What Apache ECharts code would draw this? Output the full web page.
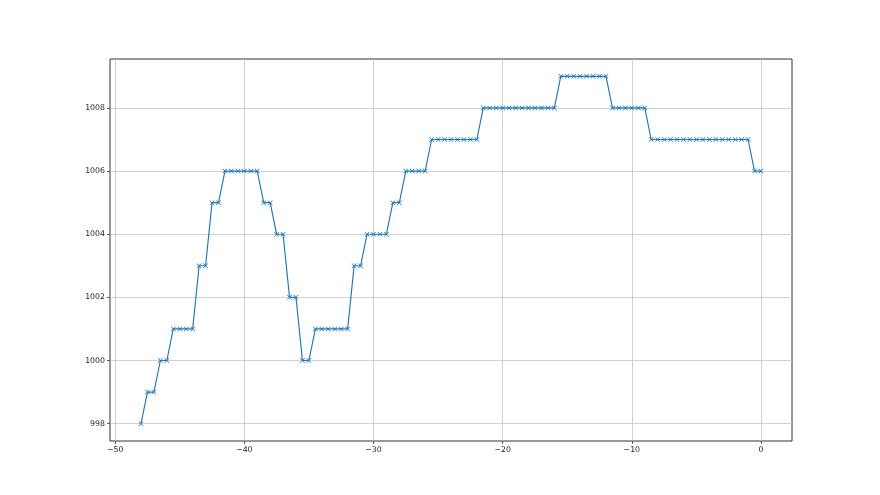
<!DOCTYPE html>
<html>
<head>
<meta charset="utf-8">
<script src="https://cdn.jsdelivr.net/npm/echarts@6/dist/echarts.min.js"></script>
<style>
  html, body { margin: 0; padding: 0; background: #fff; }
  #chart { width: 880px; height: 495px; }
</style>
</head>
<body>
<div id="chart"></div>
<script>
  // x positions (minutes), one sample every half unit
  const xs = [
    -48, -47.5, -47, -46.5, -46, -45.5, -45, -44.5, -44, -43.5, -43, -42.5, -42,
    -41.5, -41, -40.5, -40, -39.5, -39, -38.5, -38, -37.5, -37, -36.5, -36,
    -35.5, -35, -34.5, -34, -33.5, -33, -32.5, -32, -31.5, -31, -30.5, -30,
    -29.5, -29, -28.5, -28, -27.5, -27, -26.5, -26, -25.5, -25, -24.5, -24,
    -23.5, -23, -22.5, -22, -21.5, -21, -20.5, -20, -19.5, -19, -18.5, -18,
    -17.5, -17, -16.5, -16, -15.5, -15, -14.5, -14, -13.5, -13, -12.5, -12,
    -11.5, -11, -10.5, -10, -9.5, -9, -8.5, -8, -7.5, -7, -6.5, -6, -5.5, -5,
    -4.5, -4, -3.5, -3, -2.5, -2, -1.5, -1, -0.5, 0
  ]
  // pressure readings
  const ys = [
    998, 999, 999, 1000, 1000, 1001, 1001, 1001, 1001, 1003, 1003, 1005, 1005,
    1006, 1006, 1006, 1006, 1006, 1006, 1005, 1005, 1004, 1004, 1002, 1002,
    1000, 1000, 1001, 1001, 1001, 1001, 1001, 1001, 1003, 1003, 1004, 1004,
    1004, 1004, 1005, 1005, 1006, 1006, 1006, 1006, 1007, 1007, 1007, 1007,
    1007, 1007, 1007, 1007, 1008, 1008, 1008, 1008, 1008, 1008, 1008, 1008,
    1008, 1008, 1008, 1008, 1009, 1009, 1009, 1009, 1009, 1009, 1009, 1009,
    1008, 1008, 1008, 1008, 1008, 1008, 1007, 1007, 1007, 1007, 1007, 1007,
    1007, 1007, 1007, 1007, 1007, 1007, 1007, 1007, 1007, 1007, 1006, 1006
  ]
  const xTicks = [-50, -40, -30, -20, -10, 0]
  const yTicks = [998, 1000, 1002, 1004, 1006, 1008]

  const chart = echarts.init(document.getElementById('chart'), null, { renderer: 'canvas' })
  const fmt = v => String(v).replace('-', '\u2212')
  const crossMark = 'path://M0,1L1,0L5,4L9,0L10,1L6,5L10,9L9,10L5,6L1,10L0,9L4,5Z'
  const gridColor = '#c4c4c4'

  chart.setOption({
    animation: false,
    backgroundColor: '#fff',
    grid: {
      left: 110,
      right: 88,
      top: 59,
      bottom: 54,
      show: true,
      borderColor: '#333',
      borderWidth: 1,
      containLabel: false
    },
    xAxis: {
      type: 'value',
      min: -50.4,
      max: 2.4,
      axisLine: { show: false, onZero: false },
      axisTick: {
        show: true,
        length: 3,
        lineStyle: { color: '#333', width: 0.8 },
        customValues: xTicks
      },
      axisLabel: {
        color: '#222',
        fontFamily: 'DejaVu Sans',
        fontSize: 7.8,
        margin: 5,
        customValues: xTicks,
        formatter: fmt
      },
      splitLine: {
        show: true,
        lineStyle: { color: gridColor, width: 0.8 },
        customValues: xTicks
      }
    },
    yAxis: {
      type: 'value',
      min: 997.45,
      max: 1009.55,
      axisLine: { show: false, onZero: false },
      axisTick: {
        show: true,
        length: 3,
        lineStyle: { color: '#333', width: 0.8 },
        customValues: yTicks
      },
      axisLabel: {
        color: '#222',
        fontFamily: 'DejaVu Sans',
        fontSize: 7.8,
        margin: 5,
        customValues: yTicks,
        formatter: v => String(v)
      },
      splitLine: {
        show: true,
        lineStyle: { color: gridColor, width: 0.8 },
        customValues: yTicks
      }
    },
    series: [{
      type: 'line',
      data: xs.map((x, i) => [x, ys[i]]),
      symbol: crossMark,
      symbolSize: 5,
      showAllSymbol: true,
      itemStyle: { color: '#1f77b4' },
      lineStyle: { color: '#1f77b4', width: 1.15 }
    }]
  })
</script>
</body>
</html>
